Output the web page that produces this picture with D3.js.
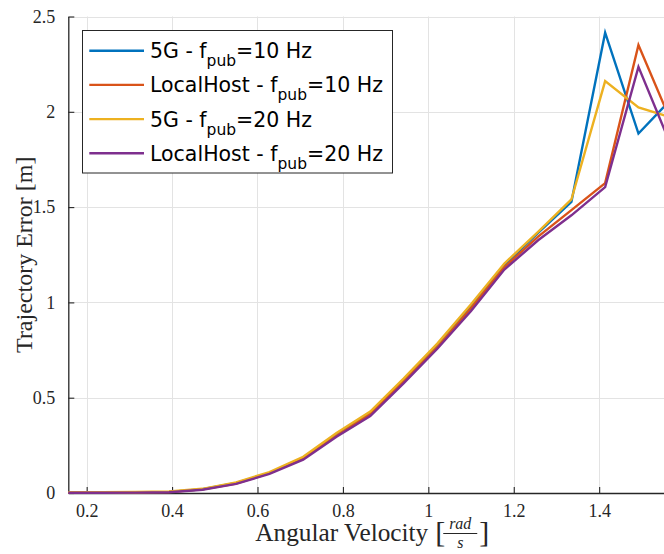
<!DOCTYPE html>
<html>
<head>
<meta charset="utf-8">
<script src="https://cdn.jsdelivr.net/npm/d3@7"></script>
<style>
  body { margin: 0; background: #fff; }
  svg { display: block; }
</style>
</head>
<body>
<svg id="chart" width="664" height="554"></svg>
<script>
// Angular velocity samples [rad/s]
const angularVelocity = [0.157, 0.236, 0.314, 0.393, 0.471, 0.550, 0.628, 0.707, 0.785, 0.864,
                         0.942, 1.021, 1.100, 1.178, 1.257, 1.335, 1.414, 1.492, 1.571];

// Trajectory error [m] per configuration
const err5G10Hz        = [0.003, 0.003, 0.004, 0.006, 0.020, 0.053, 0.105, 0.185, 0.305, 0.420,
                          0.590, 0.775, 0.980, 1.195, 1.365, 1.527, 2.415, 1.886, 2.072];
const errLocalHost10Hz = [0.002, 0.003, 0.003, 0.005, 0.019, 0.050, 0.104, 0.182, 0.300, 0.415,
                          0.585, 0.765, 0.970, 1.185, 1.345, 1.484, 1.626, 2.350, 1.935];
const err5G20Hz        = [0.004, 0.004, 0.005, 0.008, 0.022, 0.056, 0.110, 0.190, 0.315, 0.427,
                          0.600, 0.784, 0.990, 1.204, 1.370, 1.540, 2.161, 2.023, 1.968];
const errLocalHost20Hz = [0.001, 0.001, 0.002, 0.004, 0.017, 0.048, 0.100, 0.175, 0.295, 0.404,
                          0.575, 0.757, 0.955, 1.172, 1.326, 1.457, 1.605, 2.236, 1.807];

// Legend labels: main text, subscript, trailing text
const labelMain   = ["5G - f", "LocalHost - f", "5G - f", "LocalHost - f"];
const labelSub    = ["pub", "pub", "pub", "pub"];
const labelSuffix = ["=10 Hz", "=10 Hz", "=20 Hz", "=20 Hz"];
const seriesColors = ["#0072BD", "#D95319", "#EDB120", "#7E2F8E"];

const xTicks = [0.2, 0.4, 0.6, 0.8, 1, 1.2, 1.4];
const yTicks = [0, 0.5, 1, 1.5, 2, 2.5];
const xTickLabels = ["0.2", "0.4", "0.6", "0.8", "1", "1.2", "1.4"];
const yTickLabels = ["0", "0.5", "1", "1.5", "2", "2.5"];

const series = [err5G10Hz, errLocalHost10Hz, err5G20Hz, errLocalHost20Hz].map((vals, i) => ({
  main: labelMain[i], sub: labelSub[i], suffix: labelSuffix[i], color: seriesColors[i],
  points: angularVelocity.map((v, j) => ({ x: v, y: vals[j] }))
}));

const svg = d3.select("#chart");
const plotLeft = 68.3, plotRight = 672.2, plotTop = 16.5, plotBottom = 493;

const x = d3.scaleLinear().domain([0.157, 1.571]).range([plotLeft, plotRight]);
const y = d3.scaleLinear().domain([0, 2.5]).range([plotBottom, plotTop]);

const serif = "'Liberation Serif', 'Times New Roman', serif";
const sans = "'DejaVu Sans', sans-serif";
const axisColor = "#262626";

// Grid
const grid = svg.append("g").attr("stroke", "#e3e3e3").attr("stroke-width", 1);
grid.selectAll("line.gx").data(xTicks).join("line")
  .attr("x1", d => Math.round(x(d)) + 0.5).attr("x2", d => Math.round(x(d)) + 0.5)
  .attr("y1", plotTop).attr("y2", plotBottom);
grid.selectAll("line.gy").data(yTicks).join("line")
  .attr("x1", plotLeft).attr("x2", plotRight)
  .attr("y1", d => Math.round(y(d)) + 0.5).attr("y2", d => Math.round(y(d)) + 0.5);

// Axes (ticks drawn inward)
const xAxis = d3.axisBottom(x).tickValues(xTicks).tickSizeInner(-6).tickSizeOuter(0)
  .tickPadding(11).tickFormat((d, i) => xTickLabels[i]);
const yAxis = d3.axisLeft(y).tickValues(yTicks).tickSizeInner(-6).tickSizeOuter(0)
  .tickPadding(13).tickFormat((d, i) => yTickLabels[i]);

const gx = svg.append("g").attr("transform", `translate(0,${plotBottom})`).call(xAxis);
const gy = svg.append("g").attr("transform", `translate(${plotLeft},0)`).call(yAxis);
[gx, gy].forEach(g => {
  g.select(".domain").attr("stroke", axisColor).attr("stroke-width", 1.3);
  g.selectAll(".tick line").attr("stroke", axisColor).attr("stroke-width", 1.1);
  g.selectAll(".tick text").attr("fill", axisColor).attr("font-family", serif).attr("font-size", 18);
});
gx.selectAll(".tick text").attr("dy", "0.71em");

// Lines
const line = d3.line().x(d => x(d.x)).y(d => y(d.y));
svg.append("g").selectAll("path").data(series).join("path")
  .attr("d", d => line(d.points))
  .attr("fill", "none")
  .attr("stroke", d => d.color)
  .attr("stroke-width", 2.4)
  .attr("stroke-linejoin", "miter");

// Axis labels
const xc = (plotLeft + plotRight) / 2;
const xl = svg.append("g").attr("fill", axisColor).attr("font-family", serif);
xl.append("text").attr("x", xc + 58).attr("y", 541).attr("text-anchor", "end")
  .attr("font-size", 25).attr("textLength", 173).attr("lengthAdjust", "spacingAndGlyphs")
  .text("Angular Velocity");
xl.append("text").attr("x", xc + 65).attr("y", 542).attr("font-size", 30).text("[");
xl.append("text").attr("x", xc + 90).attr("y", 528.5).attr("text-anchor", "middle")
  .attr("font-size", 16).attr("font-style", "italic").text("rad");
xl.append("line").attr("x1", xc + 73).attr("x2", xc + 107).attr("y1", 533.5).attr("y2", 533.5)
  .attr("stroke", axisColor).attr("stroke-width", 1);
xl.append("text").attr("x", xc + 90).attr("y", 547.5).attr("text-anchor", "middle")
  .attr("font-size", 16).attr("font-style", "italic").text("s");
xl.append("text").attr("x", xc + 109).attr("y", 542).attr("font-size", 30).text("]");

const yc = (plotTop + plotBottom) / 2;
svg.append("text").attr("transform", `translate(32,${yc}) rotate(-90)`)
  .attr("text-anchor", "middle").attr("font-family", serif).attr("font-size", 24)
  .attr("fill", axisColor).text("Trajectory Error [m]");

// Legend
const lg = svg.append("g");
lg.append("rect").attr("x", 82.5).attr("y", 30.5).attr("width", 310).attr("height", 142.5)
  .attr("fill", "#fff").attr("stroke", axisColor).attr("stroke-width", 1);
const rows = lg.selectAll("g.row").data(series).join("g")
  .attr("transform", (d, i) => `translate(0,${50.7 + i * 34.2})`);
rows.append("line").attr("x1", 89.3).attr("x2", 144).attr("y1", 0).attr("y2", 0)
  .attr("stroke", d => d.color).attr("stroke-width", 2.4);
const txt = rows.append("text").attr("x", 150).attr("y", 7.5)
  .attr("font-family", sans).attr("font-size", 20.5).attr("fill", "#000");
txt.append("tspan").text(d => d.main);
txt.append("tspan").attr("font-size", 15.5).attr("dy", 8).text(d => d.sub);
txt.append("tspan").attr("dy", -8).text(d => d.suffix);
</script>
</body>
</html>
